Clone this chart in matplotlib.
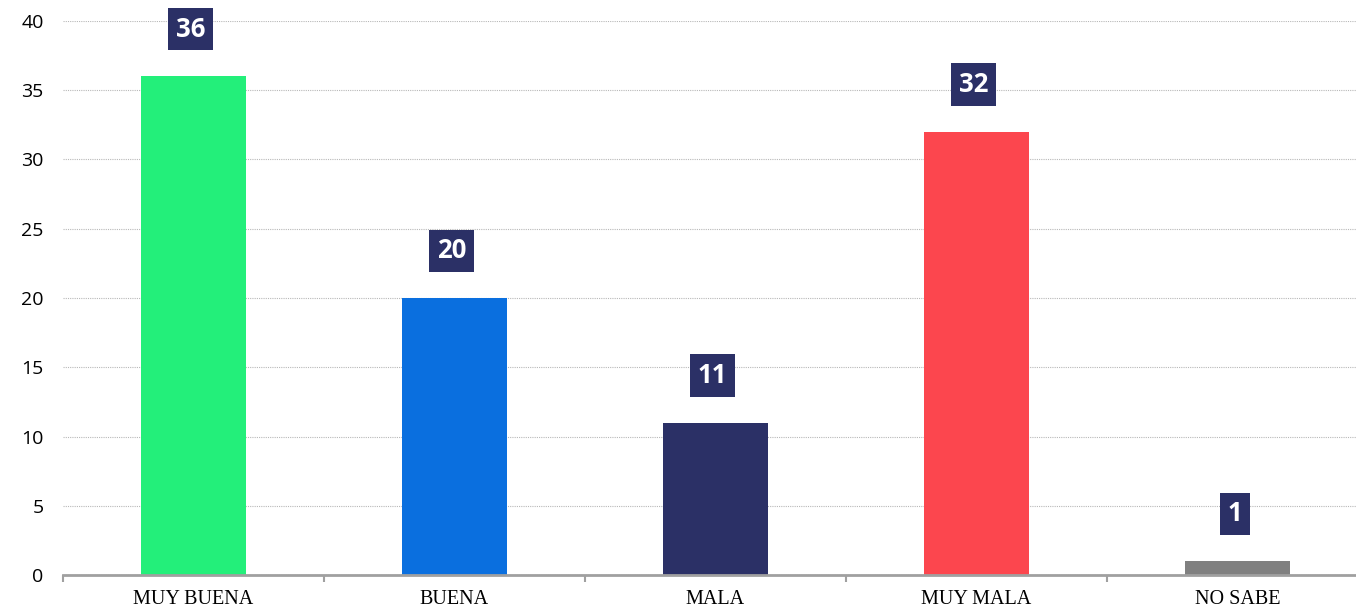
import matplotlib
matplotlib.use('Agg')
import matplotlib.pyplot as plt

categories = ['MUY BUENA', 'BUENA', 'MALA', 'MUY MALA', 'NO SABE']
values = [36, 20, 11, 32, 1]
colors = ['#23ef7a', '#0a6fdf', '#2b3066', '#fc464e', '#808080']
yticks = [0, 5, 10, 15, 20, 25, 30, 35, 40]

fig = plt.figure(figsize=(13.56, 6.07), dpi=100)
# right edge runs past the figure, as in the reference
ax = fig.add_axes([63 / 1356, 32 / 607, 1305 / 1356, 554 / 607])

x = list(range(len(categories)))
ax.bar(x, values, width=0.40, color=colors, zorder=3)

# value labels in dark boxes above the bars
for xi, v in zip(x, values):
    ax.annotate(str(v), (xi, v), xytext=(-2, 34), textcoords='offset points',
                ha='center', va='center', color='white', fontsize=18.5,
                fontweight='bold', family=['Open Sans', 'DejaVu Sans'],
                bbox=dict(boxstyle='square,pad=0.3', fc='#2b3066', ec='none'),
                zorder=4)

ax.set_xlim(-0.5, len(categories) - 0.5)
ax.set_ylim(0, 40)
ax.set_yticks(yticks)
ax.yaxis.grid(True, color='#b8b8b8', linestyle=(0, (1, 1)), linewidth=0.8, zorder=0)

ax.set_xticks(x)
ax.set_xticklabels(categories, family='Liberation Serif', fontsize=14.5)
ax.set_xticks([i - 0.5 for i in range(len(categories) + 1)], minor=True)
ax.tick_params(axis='x', which='major', length=0, pad=11)
ax.tick_params(axis='x', which='minor', length=5, width=1.5, color='#a0a0a0')
ax.tick_params(axis='y', length=0, pad=14, labelsize=14)
for lab in ax.get_yticklabels():
    lab.set_family(['Open Sans', 'DejaVu Sans'])

for s in ['top', 'right', 'left']:
    ax.spines[s].set_visible(False)
ax.spines['bottom'].set_color('#a0a0a0')
ax.spines['bottom'].set_linewidth(2)
ax.spines['bottom'].set_zorder(5)

fig.savefig('out.png', dpi=100)
